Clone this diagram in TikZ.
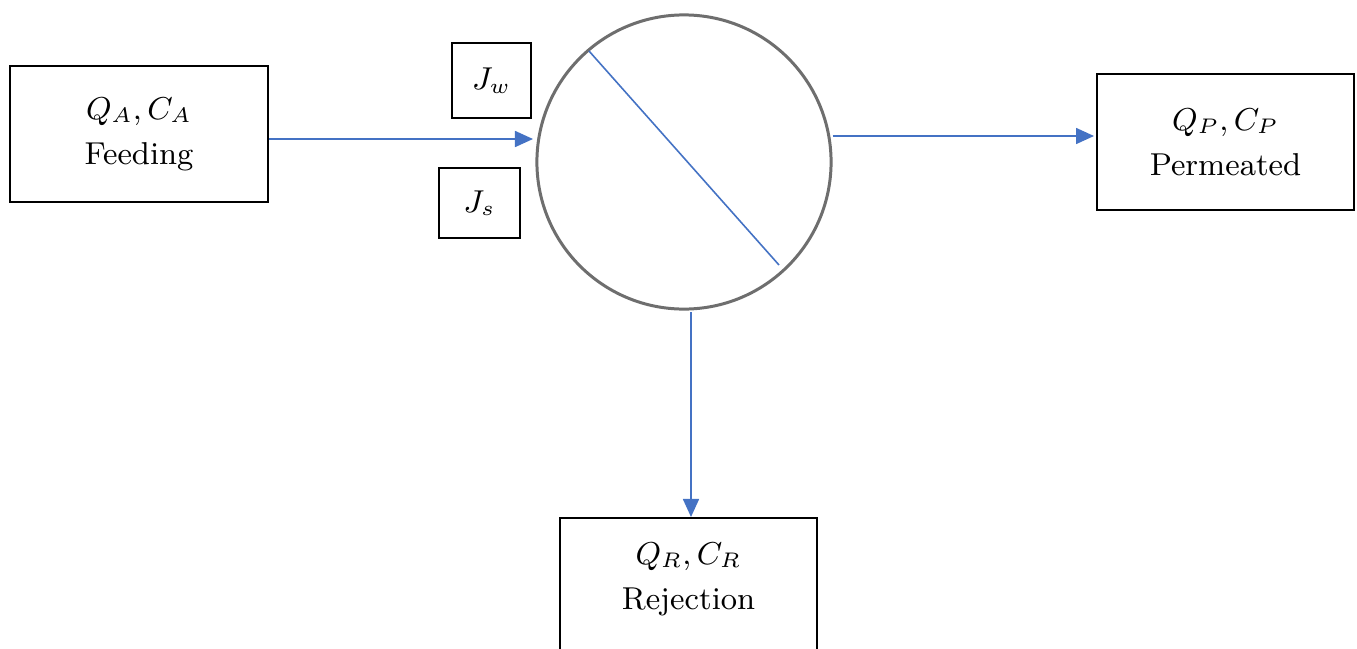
\documentclass[tikz,border=0pt]{standalone}
\usetikzlibrary{arrows.meta}
\definecolor{flowblue}{RGB}{68,114,196}
\definecolor{ringgray}{RGB}{110,110,110}
\begin{document}
\begin{tikzpicture}[x=0.01cm,y=-0.01cm,
  box/.style={draw=black,line width=0.6pt,rectangle,inner sep=0pt,align=center,font=\fontsize{9}{12.8}\selectfont},
  flow/.style={draw=flowblue,line width=0.45pt,-{Triangle[length=0.18cm,width=0.16cm]}}]
\clip (0,0) rectangle (1357,648);
\fill[white] (0,0) rectangle (1357,648);
\node[box,minimum width=2.58cm,minimum height=1.36cm] (feed) at (139,134) {$Q_A,C_A$\\Feeding};
\node[box,minimum width=0.79cm,minimum height=0.75cm] (jw) at (491.5,80.5) {$J_w$};
\node[box,minimum width=0.81cm,minimum height=0.70cm] (js) at (479.5,203) {$J_s$};
\node[box,minimum width=2.57cm,minimum height=1.36cm] (perm) at (1225.5,142) {$Q_P,C_P$\\Permeated};
\node[box,minimum width=2.57cm,minimum height=1.40cm,text depth=7pt,anchor=north] (rej) at (688.5,517) {$Q_R,C_R$\\Rejection};
\node[draw=ringgray,line width=0.85pt,circle,minimum size=2.94cm,inner sep=0pt] (mem) at (684,162) {};
\coordinate (m1) at (589,51);
\coordinate (m2) at (779,265);
\draw[flowblue,line width=0.45pt] (m1) -- (m2);
\coordinate (fin) at (533,139);
\coordinate (pout) at (1094,136);
\coordinate (rstart) at (691,312);
\draw[flow] (feed.east |- fin) -- (fin);
\draw[flow] (mem.east |- pout) -- (pout);
\draw[flow] (rstart) -- (rej.north -| rstart);
\end{tikzpicture}
\end{document}
